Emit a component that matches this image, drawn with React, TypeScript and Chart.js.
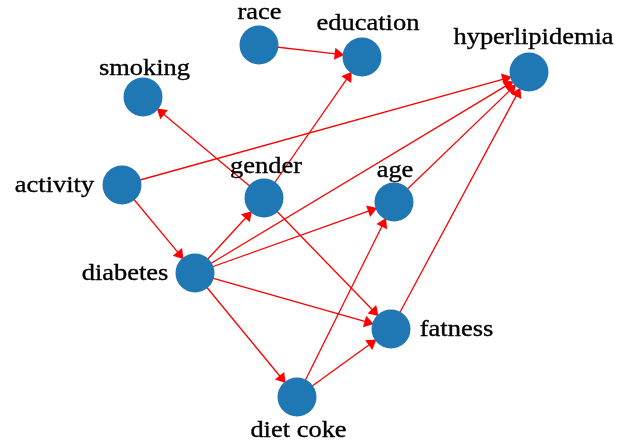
import React, { useEffect, useRef } from "react";
import { Chart, registerables } from "chart.js";

Chart.register(...registerables);

// Node names and layout coordinates (layout space matches a 627x444 frame, y downwards)
const nodeNames = ["race", "education", "hyperlipidemia", "smoking", "activity", "gender", "age", "diabetes", "fatness", "diet coke"];
const nodeX = [259, 362, 529, 143, 122, 264, 394, 195, 391, 297];
const nodeY = [45, 57, 72, 97, 185, 198, 202, 273, 329, 397];

// directed edges: [from, to]
const edgeFrom = ["race", "gender", "gender", "gender", "activity", "activity", "diabetes", "diabetes", "diabetes", "diabetes", "diabetes", "age", "fatness", "diet coke", "diet coke"];
const edgeTo = ["education", "smoking", "education", "fatness", "hyperlipidemia", "diabetes", "gender", "age", "hyperlipidemia", "fatness", "diet coke", "hyperlipidemia", "hyperlipidemia", "age", "fatness"];

// label placement (style): offset of label centre / baseline from its node, in pixels
const LABEL_DX = [0.5, 6, 4.5, 1.5, -67.5, 2, 1, -70, 65.5, 1.5];
const LABEL_DY = [-26.5, -27, -28, -22.5, 7, -25.5, -25.5, 6.5, 7, 40];

const NODE_R = 19.5;
const NODE_COLOR = "#1f77b4";
const EDGE_COLOR = "#ff0000";
const LABEL_FONT = '23px "Liberation Serif"';

export default function App() {
  const ref = useRef<HTMLCanvasElement | null>(null);

  useEffect(() => {
    let chart: Chart | null = null;
    let cancelled = false;
    const idx = (n: string) => nodeNames.indexOf(n);

    const edgePlugin = {
      id: "edges",
      beforeDatasetsDraw(c: any) {
        const ctx = c.ctx;
        const xs = c.scales.x;
        const ys = c.scales.y;
        ctx.save();
        ctx.strokeStyle = EDGE_COLOR;
        ctx.fillStyle = EDGE_COLOR;
        ctx.lineWidth = 1.3;
        for (let i = 0; i < edgeFrom.length; i++) {
          const a = idx(edgeFrom[i]);
          const b = idx(edgeTo[i]);
          const x1 = xs.getPixelForValue(nodeX[a]);
          const y1 = ys.getPixelForValue(nodeY[a]);
          const x2 = xs.getPixelForValue(nodeX[b]);
          const y2 = ys.getPixelForValue(nodeY[b]);
          const dx = x2 - x1, dy = y2 - y1;
          const len = Math.hypot(dx, dy);
          const ux = dx / len, uy = dy / len;
          const tipX = x2 - ux * (NODE_R - 1.5);
          const tipY = y2 - uy * (NODE_R - 1.5);
          const alen = 9.5, aw = 6;
          const bx = tipX - ux * alen, by = tipY - uy * alen;
          ctx.beginPath();
          ctx.moveTo(x1, y1);
          ctx.lineTo(bx + ux * 1, by + uy * 1);
          ctx.stroke();
          ctx.beginPath();
          ctx.moveTo(tipX, tipY);
          ctx.lineTo(bx - uy * aw, by + ux * aw);
          ctx.lineTo(bx + uy * aw, by - ux * aw);
          ctx.closePath();
          ctx.fill();
        }
        ctx.restore();
      },
    };

    const labelPlugin = {
      id: "nodeLabels",
      afterDatasetsDraw(c: any) {
        const ctx = c.ctx;
        const xs = c.scales.x;
        const ys = c.scales.y;
        const sx = 1.15;
        ctx.save();
        ctx.font = LABEL_FONT + ', "Times New Roman", serif';
        ctx.fillStyle = "#000";
        ctx.strokeStyle = "#000";
        ctx.lineWidth = 0.35;
        ctx.textAlign = "center";
        ctx.textBaseline = "alphabetic";
        for (let i = 0; i < nodeNames.length; i++) {
          const px = xs.getPixelForValue(nodeX[i]) + LABEL_DX[i];
          const py = ys.getPixelForValue(nodeY[i]) + LABEL_DY[i];
          ctx.save();
          ctx.translate(px, py);
          ctx.scale(sx, 1);
          ctx.fillText(nodeNames[i], 0, 0);
          ctx.strokeText(nodeNames[i], 0, 0);
          ctx.restore();
        }
        ctx.restore();
      },
    };

    const build = () => {
      if (cancelled || !ref.current) return;
      chart = new Chart(ref.current, {
        type: "scatter",
        data: {
          datasets: [
            {
              data: nodeNames.map((_, i) => ({ x: nodeX[i], y: nodeY[i] })),
              pointRadius: NODE_R,
              pointHoverRadius: NODE_R,
              pointBackgroundColor: NODE_COLOR,
              pointBorderColor: NODE_COLOR,
              pointBorderWidth: 0,
              clip: false as any,
            },
          ],
        },
        options: {
          animation: false,
          responsive: true,
          maintainAspectRatio: false,
          layout: { padding: 0, autoPadding: false },
          events: [],
          plugins: { legend: { display: false }, tooltip: { enabled: false } },
          scales: {
            x: { type: "linear", min: 0, max: 627, display: false },
            y: { type: "linear", min: 0, max: 444, reverse: true, display: false },
          },
        },
        plugins: [edgePlugin, labelPlugin],
      });
    };

    const fonts: any = (document as any).fonts;
    if (fonts && fonts.load) {
      fonts.load(LABEL_FONT, "hyperlipidemia").then(build, build);
    } else {
      build();
    }
    return () => {
      cancelled = true;
      if (chart) chart.destroy();
    };
  }, []);

  return (
    <div style={{ position: "absolute", left: 0, top: 0, width: 627, height: 444, background: "#fff" }}>
      <canvas ref={ref} />
    </div>
  );
}
